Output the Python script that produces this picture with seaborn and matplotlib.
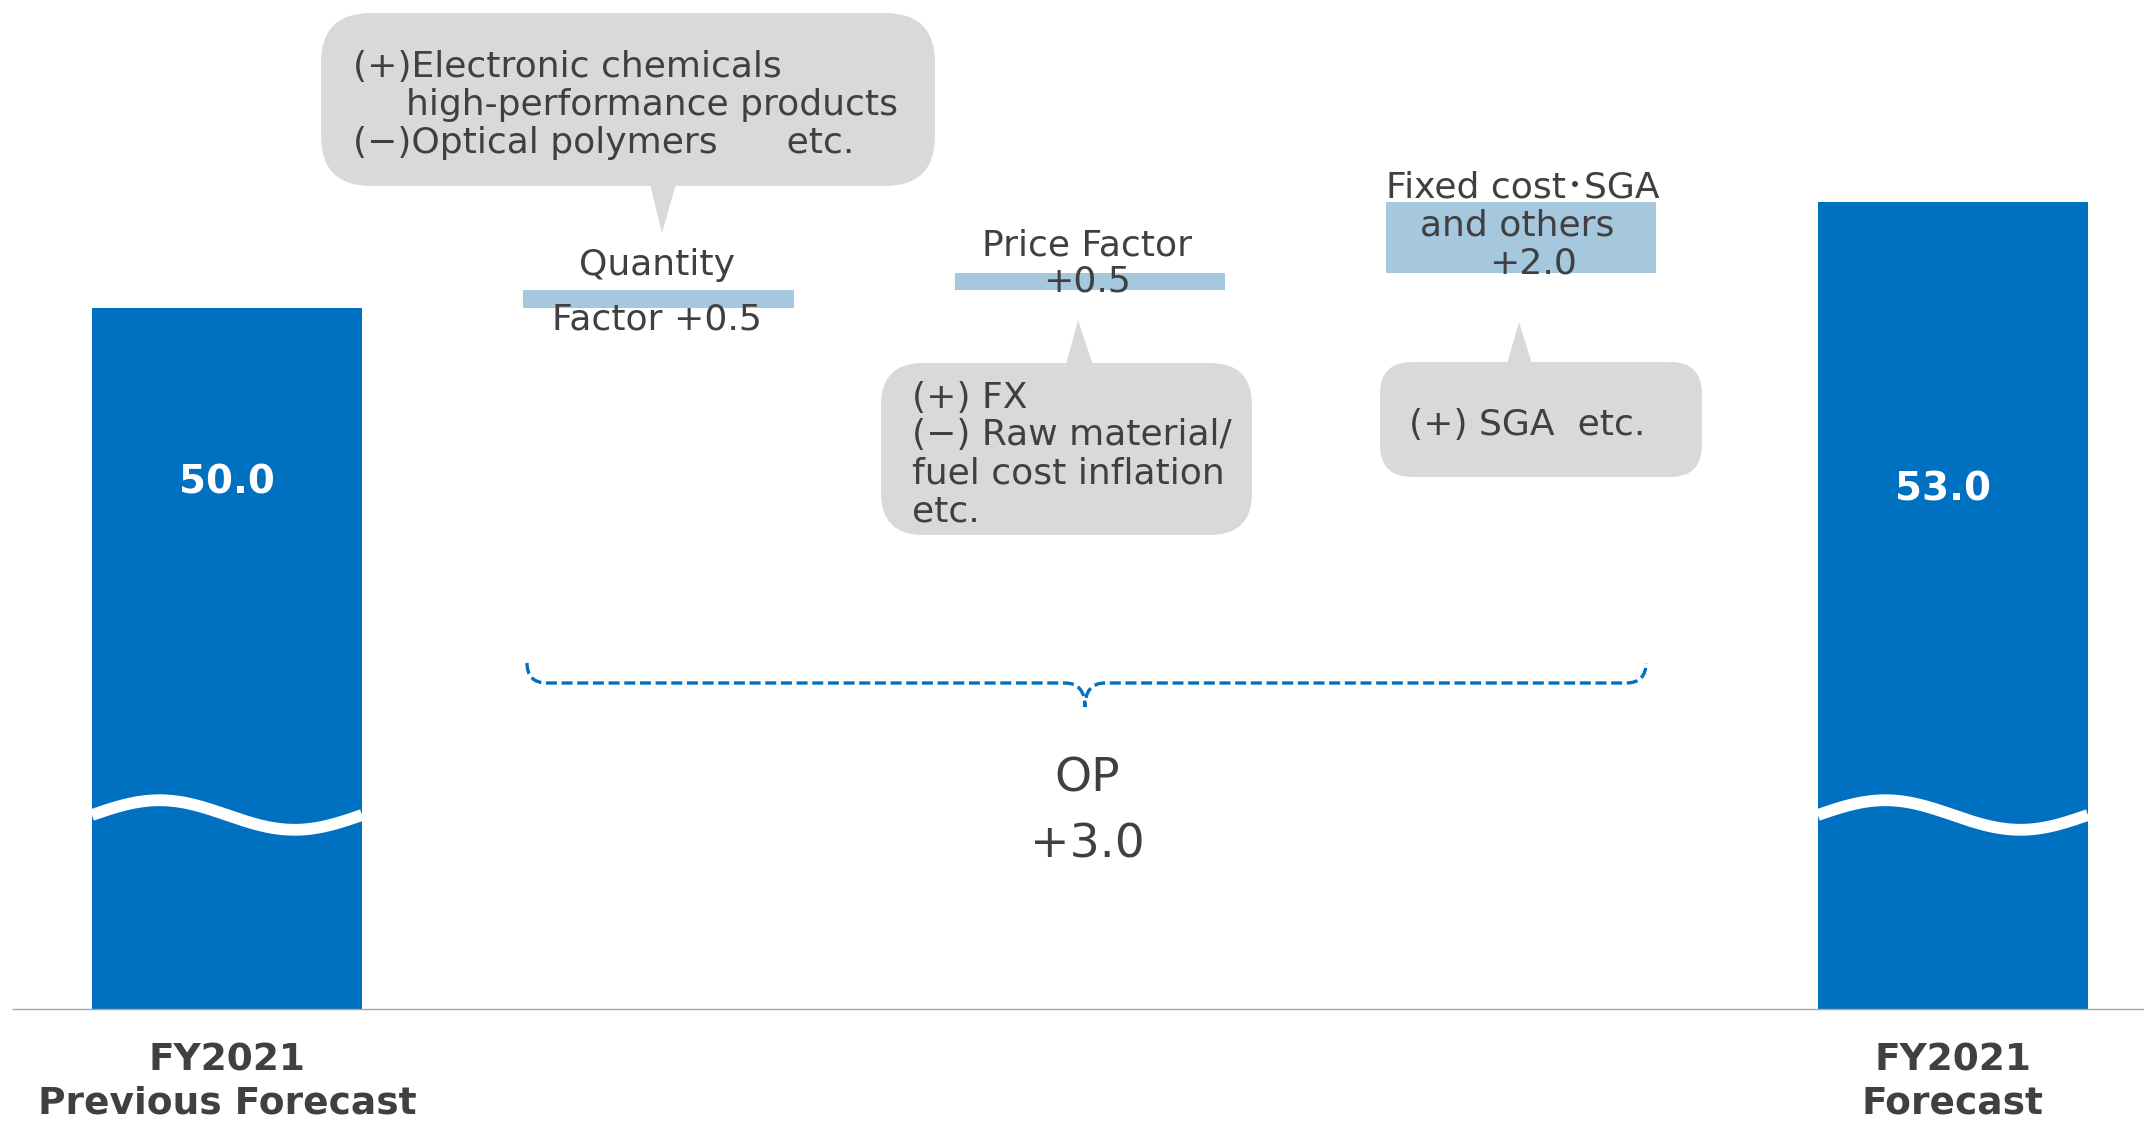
import numpy as np
import matplotlib
matplotlib.use("Agg")
import matplotlib.pyplot as plt
import seaborn as sns
from matplotlib.patches import FancyBboxPatch, Polygon, PathPatch
from matplotlib.path import Path

# ---- data ----
categories = ["FY2021\nPrevious Forecast", "Quantity Factor", "Price Factor",
              "Fixed cost･SGA and others", "FY2021\nForecast"]
total_labels = ["FY2021\nPrevious Forecast", "FY2021\nForecast"]
total_values = [50.0, 53.0]
step_labels = ["Quantity Factor", "Price Factor", "Fixed cost･SGA and others"]
step_values = [0.5, 0.5, 2.0]
op_change = 3.0

# floating bars start where the previous one ended
step_bottoms = total_values[0] + np.cumsum(step_values) - np.array(step_values)

BLUE = '#0070c0'
LIGHT = '#a5c8df'
TXT = '#404040'
GRAY = '#d9d9d9'

sns.set_style("white")
plt.rcParams['font.family'] = ['DejaVu Sans', 'Noto Sans CJK JP']

W, H = 2144, 1121
fig = plt.figure(figsize=(W / 100, H / 100), dpi=100)
ax = fig.add_axes([13 / W, 112 / H, 1 - 13 / W, 1009 / H])

sns.barplot(x=total_labels, y=total_values, order=categories, color=BLUE,
            width=0.626, errorbar=None, linewidth=0, saturation=1, ax=ax)
sns.barplot(x=step_labels, y=step_values, order=categories, color=LIGHT,
            width=0.626, errorbar=None, linewidth=0, saturation=1,
            bottom=step_bottoms, ax=ax)

# broken axis: bars are cut, baseline is not zero
ax.set_xlim(-0.496, 4.443)
ax.set_ylim(30.09, 58.75)

# white wave across the total bars
t = np.linspace(0, 1, 200)
for p in ax.containers[0]:
    x0, w = p.get_x(), p.get_width()
    ax.plot(x0 + w * t, 35.6 + 0.42 * np.sin(2 * np.pi * t), color='white',
            lw=8.5, solid_capstyle='butt', zorder=3)

# value labels in the bars
val_y = [44.72, 44.52]
val_dx = [0.0, -0.023]
for lab, v, y, dx in zip(total_labels, total_values, val_y, val_dx):
    ax.text(categories.index(lab) + dx, y, f"{v:.1f}", color='white', fontsize=28,
            fontweight='bold', ha='center', va='baseline', zorder=4)

ax.set_xticks([categories.index(l) for l in total_labels])
ax.set_xticklabels(total_labels, fontsize=27, fontweight='bold', color=TXT,
                   linespacing=1.27)
ax.tick_params(axis='x', length=0, pad=24)
ax.set_yticks([])
ax.set_xlabel('')
ax.set_ylabel('')
for s in ['left', 'top', 'right']:
    ax.spines[s].set_visible(False)
ax.spines['bottom'].set_color('#a6a6a6')
ax.spines['bottom'].set_linewidth(1)

# ---- overlay in pixel coords for callouts ----
ov = fig.add_axes([0, 0, 1, 1])
ov.set_xlim(0, W)
ov.set_ylim(H, 0)
ov.axis('off')


def bubble(x0, y0, x1, y1, r, bx0, bx1, by, tx, ty):
    ov.add_patch(FancyBboxPatch((x0, y0), x1 - x0, y1 - y0,
                                boxstyle=f"round,pad=0,rounding_size={r}",
                                fc=GRAY, ec='none'))
    ov.add_patch(Polygon([(bx0, by), (bx1, by), (tx, ty)], closed=True,
                         fc=GRAY, ec='none'))


bubble(321, 13, 935, 186, 50, 650, 676, 184, 662, 233)
bubble(881, 363, 1252, 535, 42, 1066, 1093, 365, 1078, 320)
bubble(1380, 362, 1702, 477, 32, 1507, 1532, 364, 1519, 322)

left_txt = [
    (353, 77, "(+)Electronic chemicals"),
    (406, 115, "high-performance products"),
    (353, 153, "(−)Optical polymers      etc."),
    (912, 408, "(+) FX"),
    (912, 445, "(−) Raw material/"),
    (912, 483, "fuel cost inflation"),
    (912, 522, "etc."),
    (1409, 435, "(+) SGA  etc."),
]
for x, y, s in left_txt:
    ov.text(x, y, s, fontsize=26, color=TXT, ha='left', va='baseline')

center_txt = [
    (657, 275, "Quantity"),
    (657, 330, f"Factor +{step_values[0]:.1f}"),
    (1087, 256, "Price Factor"),
    (1087, 292, f"+{step_values[1]:.1f}"),
    (1523, 197, "Fixed cost･SGA"),
    (1517, 236, "and others"),
    (1533, 274, f"+{step_values[2]:.1f}"),
]
for x, y, s in center_txt:
    ov.text(x, y, s, fontsize=26, color=TXT, ha='center', va='baseline')

ov.text(1087, 792, "OP", fontsize=34, color=TXT, ha='center', va='baseline')
ov.text(1087, 858, f"+{op_change:.1f}", fontsize=34, color=TXT, ha='center', va='baseline')

# dashed curly brace
verts = [(527, 663), (527, 683), (547, 683), (1065, 683), (1085, 683), (1085, 707),
         (1085, 683), (1105, 683), (1626, 683), (1646, 683), (1646, 663)]
codes = [Path.MOVETO, Path.CURVE3, Path.CURVE3, Path.LINETO, Path.CURVE3, Path.CURVE3,
         Path.CURVE3, Path.CURVE3, Path.LINETO, Path.CURVE3, Path.CURVE3]
ov.add_patch(PathPatch(Path(verts, codes), fill=False, edgecolor=BLUE, lw=2.4,
                       linestyle=(0, (3.3, 1.4))))

fig.savefig('out.png', dpi=100)
